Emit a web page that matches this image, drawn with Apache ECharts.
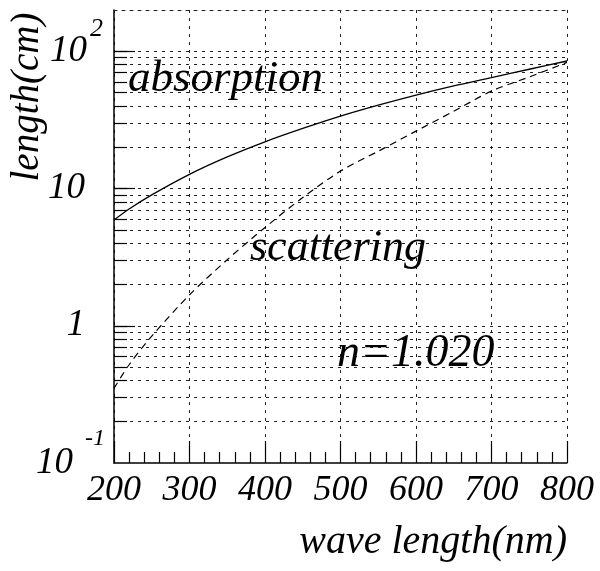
<!DOCTYPE html>
<html><head><meta charset="utf-8">
<script src="https://cdn.jsdelivr.net/npm/echarts@6/dist/echarts.min.js"></script>
<style>html,body{margin:0;padding:0;background:#fff}#c{width:600px;height:571px}</style>
</head><body><div id="c"></div>
<script>
// ---- data ----
const wavelength = [200, 220, 250, 300, 350, 400, 450, 500, 550, 600, 650, 700, 750, 800];
const absorption = [5.9, 7.1, 9.0, 12.7, 17.0, 21.9, 27.4, 33.7, 40.5, 48, 56, 64.3, 74, 85];
const scattering = [0.35, 0.52, 0.84, 1.68, 3.03, 5.2, 8.6, 13.4, 18.7, 26.2, 36.6, 51.3, 65, 83];
const xTickLabels = [200, 300, 400, 500, 600, 700, 800];
const yMajorTicks = [0.1, 1, 10, 100];
const yGridValues = [0.2, 0.3, 0.4, 0.5, 0.6, 0.7, 0.8, 0.9, 1,
                     2, 3, 4, 5, 6, 7, 8, 9, 10,
                     20, 30, 40, 50, 60, 70, 80, 90, 100];
const annotations = ['absorption', 'scattering', 'n=1.020'];
const yTitle = 'length(cm)';
const xTitle = 'wave length(nm)';

const FONT = '"Liberation Serif", "DejaVu Serif", serif';
const gridLine = {color: '#222', width: 1, type: [3, 5]};

const chart = echarts.init(document.getElementById('c'), null, {renderer: 'canvas'});
const absData = wavelength.map((w, i) => [w, absorption[i]]);
const scaData = wavelength.map((w, i) => [w, scattering[i]]);

chart.setOption({
  animation: false,
  backgroundColor: '#fff',
  grid: {left: 114, right: 33, top: 10, bottom: 108},
  xAxis: [{
    type: 'value', min: xTickLabels[0], max: xTickLabels[xTickLabels.length - 1], interval: 100,
    position: 'bottom',
    axisLine: {show: true, onZero: false, lineStyle: {color: '#000', width: 1.5}},
    axisTick: {show: true, inside: true, length: 22, lineStyle: {color: '#000', width: 1.2}},
    minorTick: {show: true, splitNumber: 5, length: 11, lineStyle: {color: '#000', width: 1.2}},
    axisLabel: {fontFamily: FONT, fontStyle: 'italic', fontSize: 36, color: '#000', margin: 10},
    splitLine: {show: true, lineStyle: gridLine}
  }, {
    type: 'value', min: xTickLabels[0], max: xTickLabels[xTickLabels.length - 1], interval: 100,
    position: 'top',
    axisLine: {show: true, onZero: false, lineStyle: gridLine},
    axisTick: {show: false}, axisLabel: {show: false}, splitLine: {show: false}
  }],
  yAxis: [{
    type: 'log', logBase: 10, min: 0.1, max: 200, position: 'left',
    axisLine: {show: true, onZero: false, lineStyle: {color: '#000', width: 1.5}},
    axisTick: {show: true, inside: true, length: 13, customValues: yGridValues, lineStyle: {color: '#000', width: 1.2}},
    axisLabel: {show: false},
    splitLine: {show: true, lineStyle: gridLine}
  }, {
    type: 'log', logBase: 10, min: 0.1, max: 200, position: 'left',
    axisLine: {show: false},
    axisTick: {show: true, inside: true, length: 21, customValues: yMajorTicks.slice(1), lineStyle: {color: '#000', width: 1.2}},
    splitLine: {show: false},
    axisLabel: {
      customValues: yMajorTicks, margin: 9, align: 'right',
      formatter: function (v) {
        const e = Math.round(Math.log10(v));
        if (e === 0 || e === 1) return '{b|' + Math.round(v) + '}{sp| }';
        return '{b|10}' + (e < 0 ? '{sn|' + e + '}' : '{sp2|' + e + '}');
      },
      rich: {
        b: {fontFamily: FONT, fontStyle: 'italic', fontSize: 37, color: '#000', lineHeight: 40, padding: [20, 0, 20, 0]},
        sp: {width: 20, lineHeight: 40, padding: [20, 0, 20, 0]},
        sp2: {fontFamily: FONT, fontStyle: 'italic', fontSize: 26, color: '#000', lineHeight: 26, padding: [5, 2, 49, 3]},
        sn: {fontFamily: FONT, fontStyle: 'italic', fontSize: 24, color: '#000', lineHeight: 24, padding: [4, 0, 52, 12]}
      }
    }
  }],
  series: [{
    name: 'absorption', type: 'line', data: absData, xAxisIndex: 0, yAxisIndex: 0,
    smooth: 0.3, showSymbol: false, symbol: 'none', silent: true,
    lineStyle: {color: '#000', width: 1.3, type: 'solid'}
  }, {
    name: 'scattering', type: 'line', data: scaData, xAxisIndex: 0, yAxisIndex: 0,
    smooth: 0.3, showSymbol: false, symbol: 'none', silent: true,
    lineStyle: {color: '#000', width: 1.2, type: [7, 5]}
  }],
  graphic: [
    {type: 'text', x: 128, y: 79, z: 100, style: {text: annotations[0], font: 'italic 45px ' + FONT, fill: '#000', align: 'left', verticalAlign: 'middle'}},
    {type: 'text', x: 250, y: 248, z: 100, style: {text: annotations[1], font: 'italic 44px ' + FONT, fill: '#000', align: 'left', verticalAlign: 'middle'}},
    {type: 'text', x: 337, y: 354, z: 100, style: {text: annotations[2], font: 'italic 46px ' + FONT, fill: '#000', align: 'left', verticalAlign: 'middle'}},
    {type: 'text', x: 28, y: 97, rotation: Math.PI / 2, z: 100, style: {text: yTitle, font: 'italic 39px ' + FONT, fill: '#000', align: 'center', verticalAlign: 'middle'}},
    {type: 'text', x: 567, y: 542, z: 100, style: {text: xTitle, font: 'italic 40px ' + FONT, fill: '#000', align: 'right', verticalAlign: 'middle'}}
  ]
});
</script>
</body></html>
